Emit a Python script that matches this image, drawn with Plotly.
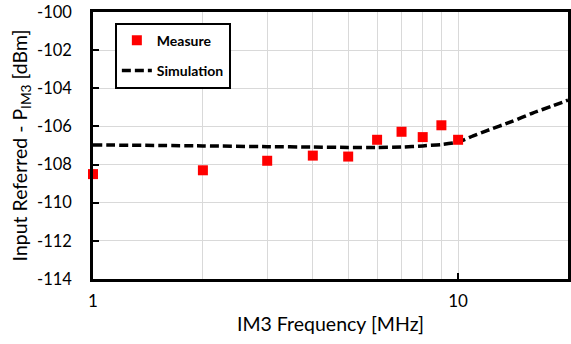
import plotly.graph_objects as go

# Data
meas_freq = [1, 2, 3, 4, 5, 6, 7, 8, 9, 10]
meas_val = [-108.5, -108.3, -107.8, -107.53, -107.58, -106.7, -106.28, -106.56, -105.94, -106.7]

sim_freq = [1, 2, 3, 4, 5, 6, 7, 8, 9, 10, 11, 12, 14, 16, 18, 20]
sim_val = [-106.97, -107.02, -107.06, -107.08, -107.1, -107.1, -107.08, -107.02, -106.95, -106.82,
           -106.5, -106.22, -105.75, -105.3, -104.95, -104.62]

x_major = [1, 10]
x_minor = [2, 3, 4, 5, 6, 7, 8, 9, 20]
y_ticks = [-114, -112, -110, -108, -106, -104, -102, -100]

FONT = "Lato"
GRID = "#d9d9d9"

fig = go.Figure()
fig.add_trace(go.Scatter(
    x=sim_freq, y=sim_val, mode="lines", name="Simulation",
    line=dict(color="black", width=3.5, dash="9px,4px", shape="spline", smoothing=0.6),
    legendgroup="b", legendrank=2,
))
fig.add_trace(go.Scatter(
    x=meas_freq, y=meas_val, mode="markers", name="Measure",
    marker=dict(symbol="square", color="#ff0000", size=10),
    legendgroup="a", legendrank=1, cliponaxis=False,
))

fig.update_layout(
    width=571, height=344,
    margin=dict(l=93, r=3, t=12, b=65),
    plot_bgcolor="white", paper_bgcolor="white",
    font=dict(family=FONT, color="black", size=17),
    showlegend=True,
    legend=dict(
        x=0.046, y=0.96, xanchor="left", yanchor="top",
        bordercolor="black", borderwidth=2, bgcolor="white",
        font=dict(family=FONT, size=14, weight="bold"),
        tracegroupgap=9, itemwidth=30,
    ),
    xaxis=dict(
        type="log", range=[0, 1.30103],
        tickvals=x_major, ticktext=[str(v) for v in x_major],
        ticks="inside", ticklen=6, tickwidth=2, tickcolor="black",
        showline=True, linecolor="black", linewidth=2.5, mirror=True,
        showgrid=True, gridcolor=GRID, gridwidth=1,
        minor=dict(tickvals=x_minor, showgrid=True, gridcolor=GRID, gridwidth=1, ticks=""),
        tickfont=dict(size=17), ticklabelstandoff=5,
        title=dict(text="IM3 Frequency [MHz]", font=dict(size=19.5), standoff=8),
        zeroline=False, automargin=False,
    ),
    yaxis=dict(
        range=[-114, -100],
        tickvals=y_ticks, ticktext=[str(v) for v in y_ticks],
        ticks="inside", ticklen=6, tickwidth=2, tickcolor="black",
        showline=True, linecolor="black", linewidth=2.5, mirror=True,
        showgrid=True, gridcolor=GRID, gridwidth=1,
        tickfont=dict(size=16.5), ticklabelstandoff=15,
        title=dict(text="Input Referred - P<sub>IM3</sub> [dBm]", font=dict(size=19.5), standoff=5),
        zeroline=False, automargin=False,
    ),
)

fig.write_html("out.html")
